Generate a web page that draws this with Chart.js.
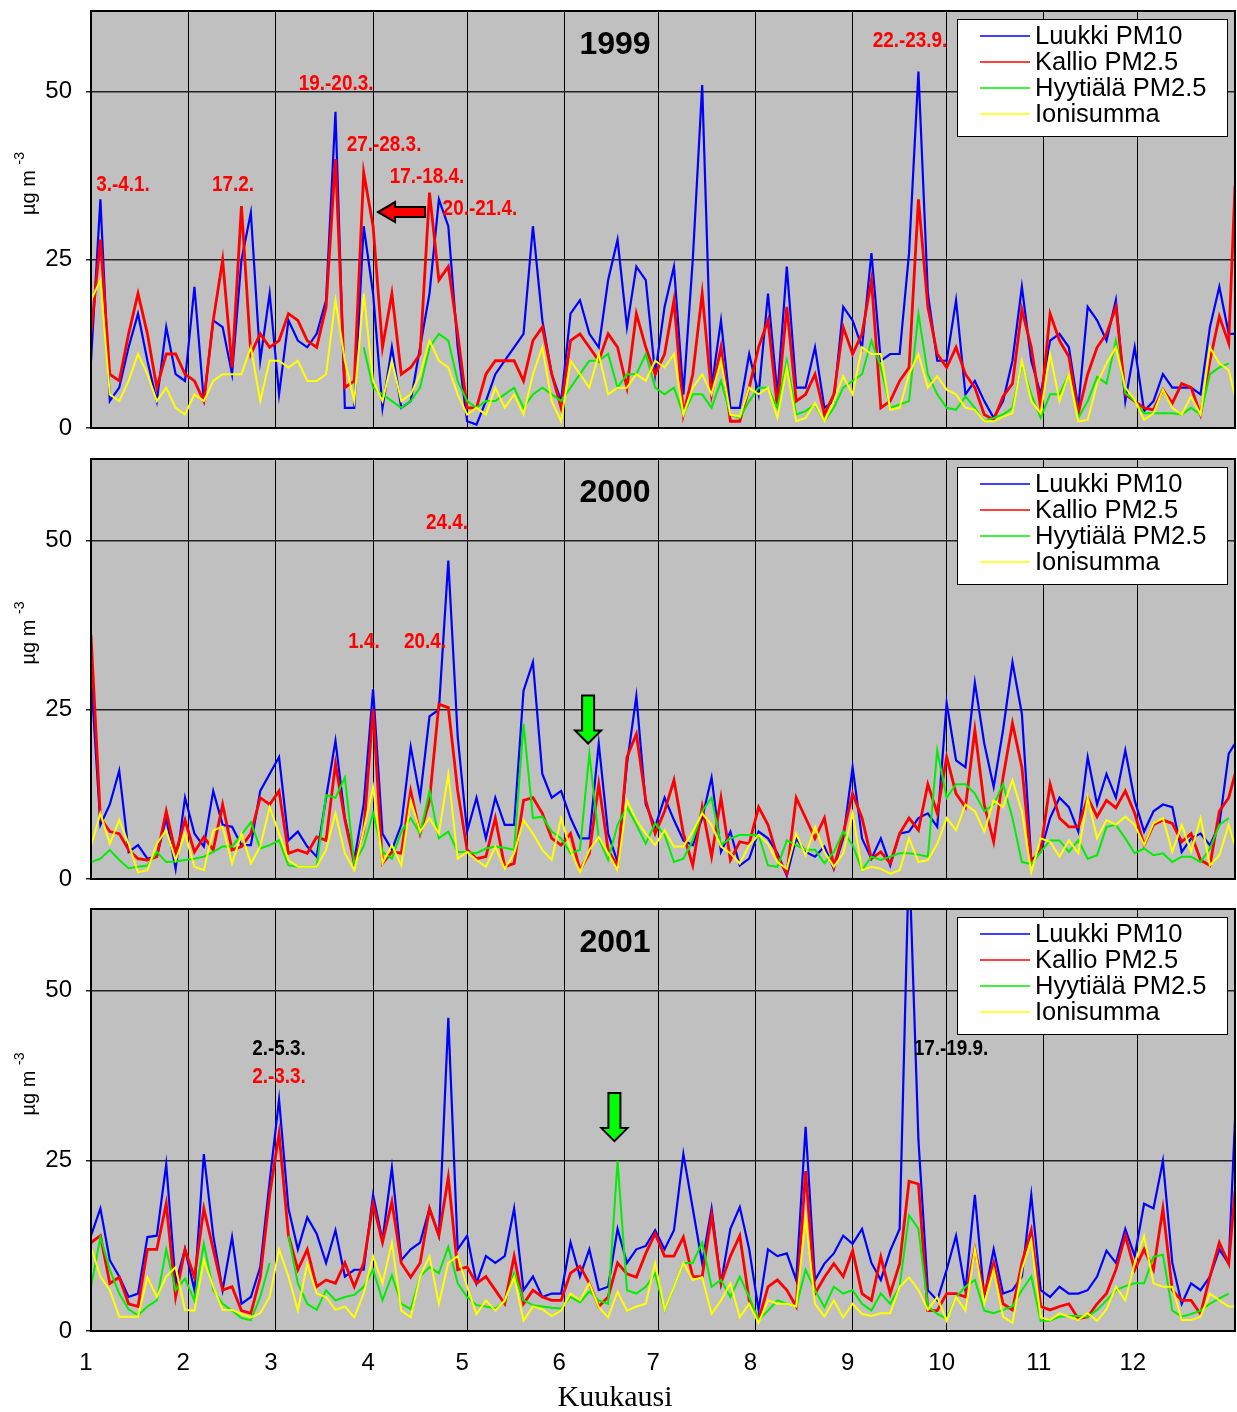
<!DOCTYPE html>
<html>
<head>
<meta charset="utf-8">
<script src="https://cdn.jsdelivr.net/npm/chart.js@4.4.0/dist/chart.umd.min.js"></script>
<style>
  body { margin: 0; background: #fff; }
  #wrap { position: relative; width: 1237px; height: 1412px; background: #fff; }
  #wrap canvas { position: absolute; left: 0; }
</style>
</head>
<body>
<div id="wrap">
  <canvas id="c1999" width="1237" height="440" style="top:0px"></canvas>
  <canvas id="c2000" width="1237" height="440" style="top:448px"></canvas>
  <canvas id="c2001" width="1237" height="514" style="top:898px"></canvas>
</div>
<script>
// x positions: day of year, one reading every 3 days + the last day
const DAYS = Array.from({ length: 122 }, (_, i) => i * 3).concat([365]);
const MONTH_STARTS = [0, 31, 59, 90, 120, 151, 181, 212, 243, 273, 304, 334, 365];
const MONTH_LABELS = ['1', '2', '3', '4', '5', '6', '7', '8', '9', '10', '11', '12'];
const Y_TICKS = [0, 25, 50];

const SERIES_LABELS = ['Luukki PM10', 'Kallio PM2.5', 'Hyytiälä PM2.5', 'Ionisumma'];
const SERIES_COLORS = ['#0000ff', '#ff0000', '#00ee00', '#ffff00'];
const SERIES_WIDTHS = [2.2, 2.8, 2, 2];

// ---- 1999 ----
const luukki1999 = [
  10, 34, 4, 6, 12, 17, 10, 4, 15, 8,
  7, 21, 4, 16, 15, 8, 25, 32, 10, 20,
  5, 16, 13, 12, 14, 19, 47, 3, 3, 30,
  20, 3, 12, 3, 4, 12, 20, 34, 30, 12,
  1, 0.5, 4, 8, 10, 12, 14, 30, 16, 8,
  4, 17, 19, 14, 12, 22, 28, 15, 24, 22,
  8, 18, 24, 5, 25, 51, 6, 16, 3, 3,
  11, 5, 20, 5, 24, 6, 6, 12, 3, 4,
  18, 16, 12, 26, 10, 11, 11, 26, 53, 20,
  10, 10, 19, 5, 7, 4, 1.5, 4, 10, 21,
  10, 5, 13, 14, 12, 3, 18, 16, 13, 19,
  4, 12, 2.5, 4, 8, 6, 6, 6, 5, 15,
  21, 14, 14
];
const kallio1999 = [
  14, 28, 8, 7, 14, 20, 14, 6, 11, 11,
  8, 7, 4, 16, 25, 9, 33, 11, 14, 12,
  13, 17, 16, 13, 12, 18, 40, 6, 7, 38,
  30, 12, 20, 8, 9, 11, 35, 22, 24, 14,
  3, 3, 8, 10, 10, 10, 7, 13, 15, 8,
  3, 13, 14, 12, 10, 14, 12, 6, 17, 12,
  8, 11, 19, 2, 8, 20, 5, 12, 1, 1,
  6, 12, 16, 3, 18, 4, 5, 8, 2, 5,
  15, 11, 14, 22, 3, 4, 7, 9, 34, 18,
  11, 9, 12, 8, 6, 2, 1.2, 4.7, 6.6, 17.6,
  12, 3, 17, 13, 10.6, 2.2, 8, 12, 14, 18,
  5, 4, 3, 2.7, 5.7, 3.7, 6.6, 6, 2, 10,
  16.6, 12.6, 36
];
const hyytiala1999 = [
  null, null, null, null, null, null, null, null, null, null,
  null, null, null, null, null, null, null, null, null, null,
  null, null, null, null, null, null, null, null, null, 12,
  6, 5, 4, 3, 4, 6, 12, 14, 13, 7,
  4, 3, 4, 4, 5, 6, 3, 5, 6, 5,
  4, 6, 8, 10, 10, 11, 6, 8, 8, 11,
  6, 5, 6, 2, 5, 5, 3, 7, 2, 1.5,
  4, 6, 6, 3, 10, 2, 2.5, 3.5, 1, 3,
  6, 7, 8, 13, 9, 3, 3.5, 4, 17, 8,
  5, 3, 2.7, 4.7, 3, 1, 1.5, 2, 3, 9.6,
  5, 1.5, 5, 5, 8, 1.5, 4, 7.6, 6.6, 13,
  5.2, 4, 2.2, 2.2, 2.2, 2.2, 2, 3, 2, 8,
  9, 9.6, null
];
const ionit1999 = [
  19, 22, 5, 4, 7, 11, 8, 4, 6, 3,
  2, 5, 4, 7, 8, 8, 8, 12, 4, 10,
  10, 9, 10, 7, 7, 8, 19, 10, 4, 20,
  7, 4, 10, 4, 5, 8, 13, 10, 9, 5,
  2, 3, 2, 6, 3, 5, 2, 8, 12, 4,
  1, 10, 8, 6, 11, 5, 6, 6, 8, 7,
  10, 9, 11, 2, 6, 8, 5, 10, 2, 1.7,
  6, 5, 6, 1.5, 9, 1, 1.5, 3.7, 1, 4,
  7.7, 5, 12, 11, 11, 2.7, 3, 8, 11, 6,
  7.7, 5.7, 5, 3, 2.7, 1, 1, 1.7, 2.2, 10,
  4, 2.2, 11, 4, 8, 1, 1.2, 6.6, 9.6, 12,
  6, 4.2, 1.2, 2.2, 5.7, 3, 2, 4.7, 2, 12,
  9.6, 8.6, 4.7
];

// ---- 2000 ----
const luukki2000 = [
  30, 8, 11, 16, 4, 5, 3, 3.3, 9, 1.5,
  12, 6.7, 4.8, 13, 8, 7.7, 5, 5, 13, 15.5,
  18, 5.7, 7, 4.8, 3.3, 12, 20.4, 9, 2.8, 11,
  28, 6.7, 4.3, 8, 19.5, 12, 24, 25, 47, 21,
  7, 12, 6, 12, 8, 8, 27.8, 32, 15.5, 12,
  13, 9, 6, 6, 20, 6.7, 2.5, 17, 27, 11,
  7.7, 12, 8.7, 5.7, 5, 9, 15, 4, 7, 2,
  3, 7, 6, 3.8, 0.5, 6, 4, 3.3, 4.8, 1.5,
  6, 16.5, 6, 3, 6, 2, 6.7, 7, 9, 9.7,
  7.7, 26, 17.5, 16.5, 29, 20, 13.6, 22, 32, 24.4,
  2.8, 4, 9, 12, 10.6, 7, 18, 11, 15.5, 12,
  19, 11.6, 7, 10, 11, 10.6, 4, 6, 6.7, 5,
  8, 18.5, 20
];
const kallio2000 = [
  36, 9, 7, 6.7, 4.3, 3, 2.8, 3.3, 10, 3.8,
  8.7, 4, 6.2, 4.3, 11, 4.3, 4.8, 6.7, 12, 11,
  13, 3.8, 4.3, 3.8, 6.2, 5.7, 17, 8.7, 2.3, 7,
  25, 2.3, 4, 3.8, 13, 6.7, 11.6, 25.8, 25.3, 13,
  4.3, 3, 3.3, 9, 1.8, 2.3, 11.6, 12, 9.7, 6,
  5, 6.7, 1.3, 3.8, 14, 4.3, 1.8, 18, 21.4, 11.6,
  6.7, 10, 14.6, 6.7, 2, 10.6, 3.3, 12, 2.8, 5.5,
  5.2, 10.6, 8, 3.3, 0.8, 12, 9, 6, 9, 1.8,
  6.7, 12.6, 9, 3, 4, 2.3, 6.7, 9, 7.2, 14,
  9.7, 18, 12.6, 10.6, 22, 11, 5.5, 15, 23, 16.5,
  2.3, 4.3, 14, 9, 7.7, 7.7, 12, 9.2, 11.6, 10.5,
  13, 9.7, 5, 8, 8.7, 8.2, 5.5, 6.7, 2.8, 2,
  10, 12, 15.5
];
const hyytiala2000 = [
  2.5, 3, 4.3, 2.8, 1.6, 1.8, 2, 4, 2.5, 2.6,
  2.8, 3, 3.3, 4, 4.8, 4.8, 6.5, 8.4, 4.5, 5,
  5.7, 2, 1.8, 1.8, 1.8, 12.4, 12, 15, 2.3, 4.8,
  9.7, 4, 3, 7, 9, 6.7, 13, 6, 7, 4,
  4, 3.8, 4.5, 4.8, 4.6, 4.3, 22.9, 9, 9.2, 7,
  6, 3.8, 4.3, 18.5, 6, 2.8, 8, 10.6, 8, 5.2,
  8.2, 6.5, 2.5, 3, 5.7, 10, 12, 5, 6, 6.5,
  6.5, 6.5, 2, 1.8, 5.7, 5, 4.3, 4.3, 2.3, 4,
  7, 5, 1.3, 3.3, 2.8, 3.3, 3.8, 3.8, 3.6, 3.3,
  19, 12, 14, 14, 12.6, 10, 11, 14, 9, 2.5,
  2.2, 4, 5.7, 5.7, 4, 5.7, 3, 3.5, 7.7, 8,
  6, 3.8, 4.5, 3.5, 3.8, 2.5, 3.3, 3.3, 2.5, 4.5,
  8, 9, null
];
const ionit2000 = [
  4.8, 9.7, 5.2, 8.7, 5.2, 1, 1.3, 5.2, 7.2, 2.8,
  6.7, 1.8, 1.3, 7.2, 7.7, 2.3, 6.7, 2.3, 4.8, 10.6,
  6.7, 2.8, 1.8, 1.8, 1.8, 4.3, 9.7, 3.8, 1.3, 7.2,
  13.6, 2.3, 5, 2, 11.6, 7, 9, 6.7, 15.5, 3,
  4, 2.8, 1.8, 4.8, 1.5, 3.8, 8.7, 6.7, 4.3, 2.8,
  9, 4.3, 1, 4.3, 6.2, 3.8, 1.3, 11.6, 8.7, 6.7,
  5, 7.2, 4.8, 4.8, 7, 9.7, 8, 4.8, 3.8, 2.3,
  5, 6.5, 5.2, 2.5, 1.5, 6.7, 3.5, 7.7, 4, 1.8,
  3.8, 9.7, 1.3, 1.8, 1.5, 0.8, 1.3, 6, 2.5, 2.8,
  5.2, 9, 7.2, 11, 10, 7, 11.6, 10.6, 14.6, 10,
  1, 6, 5.5, 3.3, 5.7, 3.8, 12, 6, 8.7, 8,
  9.2, 8, 5, 8.2, 9, 4, 8, 4, 9, 2,
  3.5, 8, 4.8
];

// ---- 2001 ----
const luukki2001 = [
  14, 18, 10.4, 8, 5, 5.5, 13.8, 14, 24.5, 7,
  12, 6, 26, 14, 6, 13.8, 4, 5, 9.4, 22,
  34, 18, 12, 16.7, 14.3, 10, 14.8, 8, 9, 9,
  20, 13.3, 24, 10.4, 12, 13, 18, 14, 46, 12,
  14, 7, 11, 10, 11, 18, 6, 8, 5, 5.5,
  5.5, 13, 8, 12, 6, 6.5, 15, 10, 12, 12.5,
  14.8, 12, 14.8, 26, 18, 10, 18, 7, 15, 18.2,
  12, 3.1, 12, 11, 11.4, 7.5, 30, 7.5, 9.9, 11.4,
  14, 12.8, 15, 10, 7.5, 11.8, 15, 70, 28, 6,
  4.5, 9, 14, 6, 20, 5, 12, 5.5, 6, 8,
  20, 6, 5, 6.5, 5.5, 5.5, 6, 8, 11.8, 10,
  15, 11, 18.7, 18, 25, 10, 4, 7, 6, 8,
  12, 9.9, 31
];
const kallio2001 = [
  13, 14, 7, 7.9, 4, 3.6, 12, 12, 18.7, 5,
  12, 7.9, 18, 12, 6, 6.5, 3, 2.6, 7.9, 20,
  29, 14, 9, 12, 6.5, 7.5, 7, 10, 6.5, 10,
  18.7, 13, 19, 10, 7.9, 10, 18, 14, 22.6, 9,
  9.4, 7, 8, 6, 4, 11, 4, 6, 5, 4.5,
  4.5, 8.5, 9.5, 7, 3.6, 5, 10, 8.4, 7.9, 11.4,
  14.3, 11, 11, 13.8, 8, 8, 17, 7, 11, 14,
  4.5, 1.6, 6.5, 7.5, 6, 3.6, 23.5, 5.5, 7.9, 9.9,
  8, 11.8, 5.5, 4.5, 10.9, 5.5, 9.9, 22, 21.6, 3,
  3, 5.5, 5.5, 5, 12, 5.5, 10, 4, 3.1, 10,
  14.8, 3.6, 3.1, 3.6, 4, 1.8, 2.1, 4, 5.5, 9,
  14, 9, 12, 9, 18, 6, 4.5, 4.5, 2.5, 8,
  13, 9.9, 20.6
];
const hyytiala2001 = [
  6.5, 13.8, 9, 5.5, 3.2, 2.3, 3.6, 4.5, 12, 6,
  7.7, 4.5, 12.8, 6, 4, 3, 1.9, 1.6, 5, 10,
  null, 14, 7, 4, 3.1, 6, 4.5, 5, 5.3, 6.5,
  9, 4.5, 8.2, 4, 3.2, 8, 9.4, 8.5, 12.4, 7,
  5, 3.8, 3.6, 3.3, 4.3, 8.5, 4.5, 3.8, 3.6, 3.4,
  3.3, 5, 4.2, 5.8, 4.5, 4, 25, 6, 5.5, 6.5,
  8.4, 3, 6.5, 10, 10, 13, 6.5, 7.5, 5, 8,
  5, 1.6, 3, 4.5, 4, 3.6, 9, 6, 3.5, 6.5,
  5.5, 6, 4, 3, 5.5, 4, 6.5, 17, 15, 3.6,
  2.5, 1.8, 5, 6.5, 7.5, 3, 2.6, 3.1, 3.6, 6,
  8, 1.5, 1.5, 2.1, 2.2, 2.2, 2.1, 3.1, 4.5, 6,
  6.6, 7, 7, 10.9, 11.2, 3, 2.1, 2.5, 3, 4,
  4.8, 5.5, null
];
const ionit2001 = [
  12.3, 8, 6, 2.1, 2.1, 2.1, 7.9, 5, 8, 9.4,
  3.1, 3, 10.4, 6.5, 3.1, 3.1, 2.5, 2, 2.6, 5,
  12, 8, 3, 9.9, 5.5, 5, 3.1, 3.6, 2, 5.5,
  11, 7, 13, 3, 2, 8, 11, 4, 10, 11,
  6.5, 2.5, 4.5, 3, 4.5, 7.9, 1.5, 3.6, 3.2, 2.2,
  3, 5.5, 4.5, 7, 3.5, 2, 5.8, 3, 3.6, 4,
  10, 3.1, 6.5, 10, 7.5, 7.9, 2.5, 4.5, 7, 2,
  4, 1.2, 4.5, 4, 4, 3.6, 16.7, 4, 2.1, 4.5,
  2, 4, 2.5, 2.2, 2.6, 2.6, 6.5, 7.9, 6, 3.1,
  5, 1.5, 5, 3, 12, 4, 9, 2.1, 1.2, 9,
  13.3, 2, 1.6, 2.6, 2.1, 1.6, 2.6, 1.5, 3.2, 6.5,
  4.5, 10, 14, 7, 6.5, 6.5, 1.6, 1.6, 2.1, 5.5,
  4.5, 3.6, 3.6
];

// annotations (day of year, value)
const NOTES_1999 = [
  { text: '3.-4.1.', day: 10.2, value: 36.2, color: '#ff0000' },
  { text: '17.2.', day: 45.3, value: 36.2, color: '#ff0000' },
  { text: '19.-20.3.', day: 78.2, value: 51.2, color: '#ff0000' },
  { text: '27.-28.3.', day: 93.5, value: 42.1, color: '#ff0000' },
  { text: '17.-18.4.', day: 107.2, value: 37.4, color: '#ff0000' },
  { text: '20.-21.4.', day: 124.1, value: 32.6, color: '#ff0000' },
  { text: '22.-23.9.', day: 261.3, value: 57.6, color: '#ff0000' }
];
const NOTES_2000 = [
  { text: '24.4.', day: 113.6, value: 52.6, color: '#ff0000' },
  { text: '1.4.', day: 87.1, value: 35, color: '#ff0000' },
  { text: '20.4.', day: 106.6, value: 35, color: '#ff0000' }
];
const NOTES_2001 = [
  { text: '2.-5.3.', day: 60, value: 41.4, color: '#000000' },
  { text: '2.-3.3.', day: 60, value: 37.3, color: '#ff0000' },
  { text: '17.-19.9.', day: 274.4, value: 41.4, color: '#000000' }
];

const FONT = '"Liberation Sans", Arial, sans-serif';

function drawArrow(ctx, tx, ty, ar) {
  // arrow pointing along +u, tip at origin
  ctx.save();
  ctx.translate(tx, ty);
  ctx.rotate(ar.angle);
  ctx.beginPath();
  ctx.moveTo(0, 0);
  ctx.lineTo(-ar.headLen, -ar.head);
  ctx.lineTo(-ar.headLen, -ar.shaft);
  ctx.lineTo(-ar.len, -ar.shaft);
  ctx.lineTo(-ar.len, ar.shaft);
  ctx.lineTo(-ar.headLen, ar.shaft);
  ctx.lineTo(-ar.headLen, ar.head);
  ctx.closePath();
  ctx.fillStyle = ar.fill;
  ctx.fill();
  ctx.strokeStyle = '#000';
  ctx.lineWidth = 2;
  ctx.stroke();
  ctx.restore();
}

const panelDecor = {
  id: 'panelDecor',
  beforeDraw(chart) {
    const { ctx, chartArea: a } = chart;
    ctx.save();
    ctx.fillStyle = '#c0c0c0';
    ctx.fillRect(a.left, a.top, a.right - a.left, a.bottom - a.top);
    ctx.restore();
  },
  afterDraw(chart, args, opts) {
    const { ctx, chartArea: a, scales: { x, y } } = chart;
    ctx.save();

    // frame
    ctx.strokeStyle = '#000';
    ctx.lineWidth = 2;
    ctx.strokeRect(a.left, a.top, a.right - a.left, a.bottom - a.top);

    // year
    ctx.fillStyle = '#000';
    ctx.font = 'bold 32px ' + FONT;
    ctx.textAlign = 'center';
    ctx.textBaseline = 'middle';
    ctx.fillText(opts.year, a.left + 524, a.top + 34);

    // notes (narrow bold)
    ctx.font = 'bold 22px ' + FONT;
    opts.notes.forEach(n => {
      ctx.save();
      ctx.translate(x.getPixelForValue(n.day), y.getPixelForValue(n.value));
      ctx.scale(0.86, 1);
      ctx.fillStyle = n.color;
      ctx.fillText(n.text, 0, 0);
      ctx.restore();
    });

    // arrow
    if (opts.arrow) {
      drawArrow(ctx, x.getPixelForValue(opts.arrow.day), y.getPixelForValue(opts.arrow.value), opts.arrow);
    }

    // legend
    const lx = a.right - 278, ly = a.top + 8, lw = 270, lh = 117;
    ctx.fillStyle = '#fff';
    ctx.fillRect(lx, ly, lw, lh);
    ctx.strokeStyle = '#000';
    ctx.lineWidth = 1;
    ctx.strokeRect(lx + 0.5, ly + 0.5, lw, lh);
    ctx.font = '25.5px ' + FONT;
    ctx.textAlign = 'left';
    chart.data.datasets.forEach((ds, i) => {
      const yy = ly + 17 + i * 26;
      ctx.strokeStyle = ds.borderColor;
      ctx.lineWidth = 1.5;
      ctx.beginPath();
      ctx.moveTo(lx + 23, yy);
      ctx.lineTo(lx + 73, yy);
      ctx.stroke();
      ctx.fillStyle = '#000';
      ctx.fillText(ds.label, lx + 78, yy + 1);
    });

    // x axis title (bottom panel only)
    if (opts.xTitle) {
      ctx.font = '30px "Liberation Serif", "Times New Roman", serif';
      ctx.textAlign = 'center';
      ctx.fillText(opts.xTitle, a.left + 524, a.bottom + 67);
    }

    // y title with superscript
    const cy = (a.top + a.bottom) / 2 - 36;
    ctx.translate(28, cy);
    ctx.rotate(-Math.PI / 2);
    ctx.fillStyle = '#000';
    ctx.textBaseline = 'alphabetic';
    ctx.textAlign = 'left';
    ctx.font = '20px ' + FONT;
    const w1 = ctx.measureText('µg m ').width;
    ctx.font = '14px ' + FONT;
    const w2 = ctx.measureText('-3').width;
    const start = -(w1 + w2) / 2;
    ctx.font = '20px ' + FONT;
    ctx.fillText('µg m', start, 7);
    ctx.font = '14px ' + FONT;
    ctx.fillText('-3', start + w1, -4);

    ctx.restore();
  }
};

function makePanel(canvasId, series, cfg) {
  return new Chart(document.getElementById(canvasId), {
    type: 'line',
    data: {
      datasets: SERIES_LABELS.map((label, k) => ({
        label: label,
        data: DAYS.map((d, i) => ({ x: d, y: series[k][i] })),
        borderColor: SERIES_COLORS[k],
        borderWidth: SERIES_WIDTHS[k],
        pointRadius: 0,
        tension: 0,
        spanGaps: false,
        order: 4 - k
      }))
    },
    options: {
      responsive: false,
      animation: false,
      devicePixelRatio: 1,
      layout: { padding: { top: 11, right: 2, left: 0, bottom: 0 } },
      plugins: {
        legend: { display: false },
        tooltip: { enabled: false },
        panelDecor: { year: cfg.year, notes: cfg.notes, arrow: cfg.arrow, xTitle: cfg.xTitle }
      },
      scales: {
        x: {
          type: 'linear',
          min: 0,
          max: 365,
          afterBuildTicks: s => { s.ticks = MONTH_STARTS.map(v => ({ value: v })); },
          afterFit: s => { s.height = cfg.xHeight; s.paddingLeft = 0; s.paddingRight = 0; },
          grid: { color: '#000', lineWidth: 1, drawTicks: false },
          border: { display: false },
          ticks: {
            display: !!cfg.xTitle,
            autoSkip: false,
            maxRotation: 0,
            padding: 18,
            labelOffset: -5,
            color: '#000',
            font: { family: FONT, size: 24 },
            callback: v => {
              const k = MONTH_STARTS.indexOf(v);
              return k >= 0 && k < 12 ? MONTH_LABELS[k] : '';
            }
          }
        },
        y: {
          min: 0,
          max: 62,
          afterBuildTicks: s => { s.ticks = Y_TICKS.map(v => ({ value: v })); },
          afterFit: s => { s.width = 91; s.paddingTop = 0; s.paddingBottom = 0; },
          grid: { color: '#222', lineWidth: 1.5, tickLength: 5 },
          border: { display: false },
          ticks: {
            padding: 14,
            color: '#000',
            font: { family: FONT, size: 24 }
          }
        }
      }
    },
    plugins: [panelDecor]
  });
}

makePanel('c1999', [luukki1999, kallio1999, hyytiala1999, ionit1999], {
  year: '1999', notes: NOTES_1999, xHeight: 12,
  arrow: { day: 91.6, value: 32.1, angle: Math.PI, fill: '#ff0000', len: 47, headLen: 17, head: 10, shaft: 5 }
});
makePanel('c2000', [luukki2000, kallio2000, hyytiala2000, ionit2000], {
  year: '2000', notes: NOTES_2000, xHeight: 9,
  arrow: { day: 158.6, value: 20, angle: Math.PI / 2, fill: '#00ff00', len: 48, headLen: 13, head: 13, shaft: 6 }
});
makePanel('c2001', [luukki2001, kallio2001, hyytiala2001, ionit2001], {
  year: '2001', notes: NOTES_2001, xHeight: 81, xTitle: 'Kuukausi',
  arrow: { day: 167, value: 27.9, angle: Math.PI / 2, fill: '#00ff00', len: 48, headLen: 13, head: 13, shaft: 6 }
});
</script>
</body>
</html>
